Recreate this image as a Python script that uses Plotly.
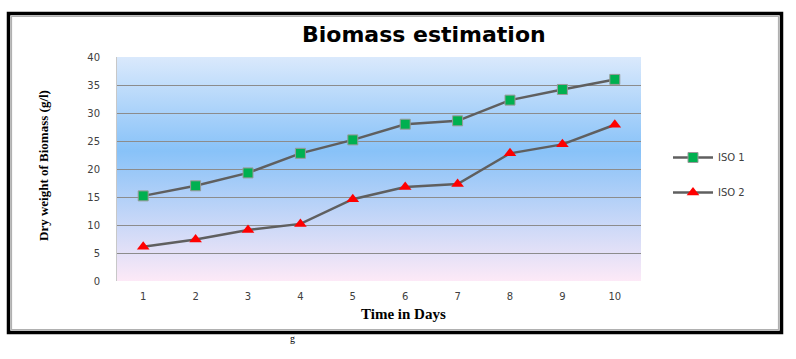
import base64
import plotly.graph_objects as go

days = [1, 2, 3, 4, 5, 6, 7, 8, 9, 10]
iso1 = [15.2, 17.0, 19.3, 22.8, 25.2, 28.0, 28.6, 32.3, 34.2, 36.0]
iso2 = [6.1, 7.4, 9.1, 10.2, 14.6, 16.8, 17.3, 22.8, 24.4, 27.9]
y_ticks = [0, 5, 10, 15, 20, 25, 30, 35, 40]

W, H = 796, 359
L, R, T, B = 117, 641, 57, 281

def px(x):
    return (x - L) / (R - L)

def py(y):
    return (B - y) / (B - T)

svg = (
    '<svg xmlns="http://www.w3.org/2000/svg" width="100" height="100" preserveAspectRatio="none">'
    '<defs><linearGradient id="g" x1="0" y1="0" x2="0" y2="1">'
    '<stop offset="0" stop-color="#dae9fc"/>'
    '<stop offset="0.42" stop-color="#88c2f8"/>'
    '<stop offset="1" stop-color="#fde9f7"/>'
    '</linearGradient></defs>'
    '<rect width="100" height="100" fill="url(#g)"/></svg>'
)
src = "data:image/svg+xml;base64," + base64.b64encode(svg.encode()).decode()

tick_font = dict(family="DejaVu Sans", size=10, color="#404040")

fig = go.Figure()
fig.add_trace(go.Scatter(
    x=days, y=iso1, name="ISO 1", mode="lines+markers", legendgroup="a",
    line=dict(color="#5f5f5f", width=2.5),
    marker=dict(symbol="square", size=10, color="#00b050",
                line=dict(color="#9a9a9a", width=1)),
))
fig.add_trace(go.Scatter(
    x=days, y=iso2, name="ISO 2", mode="lines+markers", legendgroup="b",
    line=dict(color="#5f5f5f", width=2.5),
    marker=dict(symbol="triangle-up", size=11, color="#ff0000",
                line=dict(color="#ff0000", width=0)),
))

fig.update_layout(
    width=W, height=H,
    margin=dict(l=L, r=W - R, t=T, b=H - B),
    paper_bgcolor="white",
    plot_bgcolor="rgba(0,0,0,0)",
    showlegend=True,
    legend=dict(x=px(668), y=py(143), xanchor="left", yanchor="top",
                font=tick_font, traceorder="grouped", tracegroupgap=16,
                itemwidth=40, bgcolor="rgba(0,0,0,0)"),
    title=dict(text="<b>Biomass estimation</b>", x=px(396), xanchor="center",
               y=1 - 34 / H, yanchor="middle",
               font=dict(family="DejaVu Sans", size=22, color="black")),
    xaxis=dict(range=[0.5, 10.5], tickmode="array", tickvals=days,
               ticktext=[str(d) for d in days], showgrid=False,
               zeroline=False, showline=False, ticks="", tickfont=tick_font,
               ticklabelstandoff=8),
    yaxis=dict(range=[0, 40], tickmode="array", tickvals=y_ticks,
               showgrid=True, gridcolor="#8c8c8c", gridwidth=1,
               zeroline=False, showline=True, linecolor="#c8c8c8",
               linewidth=1, ticks="", tickfont=tick_font,
               ticklabelstandoff=14),
    images=[dict(source=src, xref="paper", yref="paper", x=0, y=1,
                 sizex=1, sizey=1, sizing="stretch", layer="below")],
    shapes=[
        dict(type="rect", xref="paper", yref="paper",
             x0=px(8.5), x1=px(781.5), y0=py(13.5), y1=py(332.5),
             line=dict(color="black", width=3.5)),
        dict(type="rect", xref="paper", yref="paper",
             x0=px(11.5), x1=px(778.5), y0=py(16.5), y1=py(329.5),
             line=dict(color="#b0b0b0", width=1.2)),
    ],
    annotations=[
        dict(text="<b>Dry weight of Biomass (g/l)</b>", xref="paper", yref="paper",
             x=px(43), y=py(166), xanchor="center", yanchor="middle",
             textangle=-90, showarrow=False,
             font=dict(family="Liberation Serif", size=13, color="black")),
        dict(text="<b>Time in Days</b>", xref="paper", yref="paper",
             x=px(403), y=py(314), xanchor="center", yanchor="middle",
             showarrow=False,
             font=dict(family="Liberation Serif", size=15, color="black")),
        dict(text="g", xref="paper", yref="paper",
             x=px(292), y=py(338), xanchor="center", yanchor="middle",
             showarrow=False,
             font=dict(family="Liberation Serif", size=10, color="black")),
    ],
)

fig.write_html("out.html", config={"displayModeBar": False},
               post_script="document.body.style.margin='0';document.body.style.padding='0';")
